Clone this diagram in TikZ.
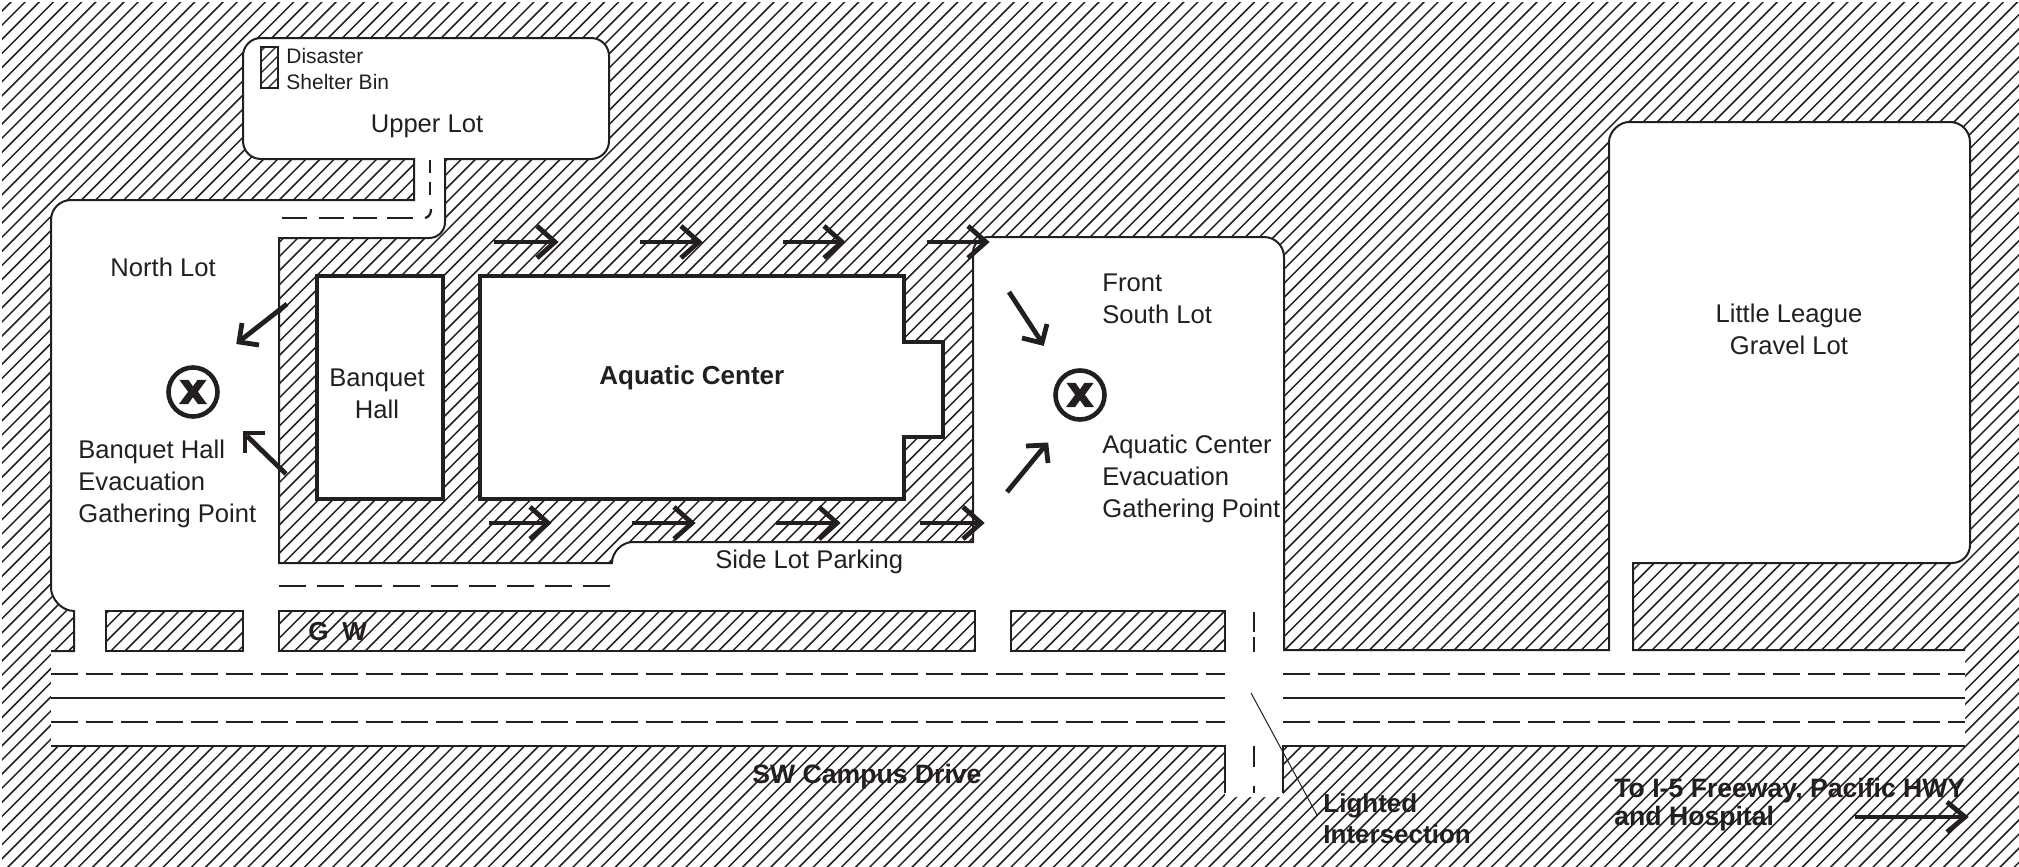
\documentclass[tikz,border=0pt]{standalone}
\usepackage{fontspec}
\setmainfont{Liberation Sans}
\newfontfamily\xfont[BoldFeatures={FakeBold=2.5}]{DejaVu Sans}
\definecolor{ink}{HTML}{231F20}
\tikzset{
  hatchline/.style={ink,line width=0.75pt,line cap=butt},
  edgeline/.style={ink,line width=1pt,line join=miter},
  bldg/.style={draw=ink,fill=white,line width=2.3pt,line join=miter},
  hatchbox/.style={draw=ink,line width=1.1pt},
  solidroad/.style={ink,line width=1.15pt},
  roaddash/.style={ink,line width=1.15pt,dash pattern=on 13.5pt off 4pt},
  lotdash/.style={ink,line width=1.15pt,dash pattern=on 13.5pt off 5.5pt},
  crossdash/.style={ink,line width=1.1pt},
  flow/.style={ink,line width=2.4pt,line join=miter,line cap=butt},
  gather/.style={draw=ink,line width=2.3pt,fill=white},
  lbl/.style={inner sep=0pt,text=ink,font=\fontsize{12.8}{16}\selectfont,align=left,anchor=base west},
  lblc/.style={lbl,align=center,anchor=base},
  blbl/.style={lbl,font=\fontsize{13}{15.5}\selectfont\bfseries},
  xmark/.style={inner sep=0pt,text=ink,font=\fontsize{21}{21}\selectfont\xfont\bfseries}
}
\def\lotedge{(51,651) -- (74,651) -- (74,611) .. controls (61,611) and (51,598) .. (51,588)
 -- (51,220) .. controls (51,209) and (60,200) .. (71,200)
 -- (414,200) -- (414,159) -- (261,159) .. controls (251,159) and (243,151) .. (243,141)
 -- (243,56) .. controls (243,46) and (251,38) .. (261,38)
 -- (591,38) .. controls (601,38) and (609,46) .. (609,56)
 -- (609,141) .. controls (609,151) and (601,159) .. (591,159)
 -- (445,159) -- (445,222) .. controls (445,231) and (438,238) .. (429,238)
 -- (279,238) -- (279,563) -- (612,563) .. controls (612,552) and (622,542) .. (633,542)
 -- (973,542) -- (973,252) .. controls (973,244) and (981,237) .. (988,237)
 -- (1264,237) .. controls (1275,237) and (1284,246) .. (1284,257)
 -- (1284,650) -- (1609,650) -- (1609,142) .. controls (1609,131) and (1620,122) .. (1629,122)
 -- (1950,122) .. controls (1961,122) and (1970,131) .. (1970,142)
 -- (1970,545) .. controls (1970,555) and (1962,563) .. (1952,563)
 -- (1633,563) -- (1633,650) -- (1965,650)}
\begin{document}
\begin{tikzpicture}[x=0.5pt,y=-0.5pt]
\useasboundingbox (0,0) rectangle (2019,867);
\fill[white] (0,0) rectangle (2019,867);
% background hatching
\begin{scope}
  \clip (2,2) rectangle (2019,867);
  \foreach \k in {0,...,205}{
    \pgfmathsetmacro{\c}{13+14.13*\k}
    \draw[hatchline] (\c,0) -- (0,\c);
  }
\end{scope}
% lots and roads, with the hatched curb blocks left as holes
\fill[white,even odd rule] \lotedge -- (1965,746) -- (1283,746) -- (1283,797) -- (1225,797) -- (1225,746) -- (51,746) -- cycle
  (106,611) rectangle (243,651)
  (279,611) rectangle (975,651)
  (1011,611) rectangle (1225,651);
\draw[edgeline] \lotedge;
\draw[hatchbox] (106,611) rectangle (243,651);
\draw[hatchbox] (279,611) rectangle (975,651);
\draw[hatchbox] (1011,611) rectangle (1225,651);
% road lines
\draw[solidroad] (51,698) -- (1225,698);
\draw[solidroad] (1283,698) -- (1965,698);
\draw[solidroad] (51,746) -- (1225,746) -- (1225,793);
\draw[solidroad] (1965,746) -- (1283,746) -- (1283,793);
\draw[roaddash] (51,674) -- (1225,674);
\draw[roaddash] (51,722) -- (1225,722);
\draw[roaddash] (1283,674) -- (1965,674);
\draw[roaddash] (1283,722) -- (1965,722);
\draw[lotdash] (279,586) -- (612,586);
% cross street dashes
\draw[crossdash] (1254,612) -- (1254,632) (1254,637) -- (1254,652) (1254,746) -- (1254,767) (1254,786) -- (1254,793);
% access road dashes
\draw[crossdash] (430,160) -- (430,173) (430,182) -- (430,195);
\draw[crossdash] (431,209) .. controls (431,214) and (429,217) .. (425,218);
\draw[crossdash] (282,218) -- (307,218) (319,218) -- (344,218) (353,218) -- (377,218) (387,218) -- (413,218);
% leader
\draw[ink,line width=0.5pt] (1251,693) -- (1317,815);
% buildings
\draw[bldg] (317,276) rectangle (443,499);
\draw[bldg] (480,276) -- (904,276) -- (904,342) -- (943,342) -- (943,437) -- (904,437) -- (904,499) -- (480,499) -- cycle;
% legend swatch
\begin{scope}
  \clip (261,47) rectangle (278,88);
  \foreach \k in {0,...,6}{
    \pgfmathsetmacro{\c}{312+11*\k}
    \draw[ink,line width=0.65pt] (\c,0) -- (0,\c);
  }
\end{scope}
\draw[ink,line width=0.8pt] (261,47) rectangle (278,88);
% flow arrows
\foreach \xa/\xb in {494/555,640/699,783/842,927/986}{
  \draw[flow] (\xa,242) -- (\xb-2,242);
  \draw[flow] (\xb-18,226) -- (\xb,242) -- (\xb-18,258);
}
\foreach \xa/\xb in {489/548,632/692,776/837,920/981}{
  \draw[flow] (\xa,523) -- (\xb-2,523);
  \draw[flow] (\xb-18,507) -- (\xb,523) -- (\xb-18,539);
}
\draw[flow] (1009,292) -- (1041,341);
\draw[flow] (1047,324) -- (1042,343) -- (1022,338);
\draw[flow] (1007,492) -- (1044,447);
\draw[flow] (1026,446) -- (1046,445) -- (1048,463);
\draw[flow] (287,304) -- (241,340);
\draw[flow] (242,323) -- (239,342) -- (259,345);
\draw[flow] (286,474) -- (247,436);
\draw[flow] (265,433) -- (245,433) -- (245,453);
\draw[flow] (1855,817) -- (1963,817);
\draw[flow] (1947,802) -- (1965,817) -- (1947,832);
% gathering points
\node[gather,circle,minimum size=24.5pt,inner sep=0pt] (gp1) at (193,392) {};
\node[xmark] (gp1x) at (193,392) {x};
\node[gather,circle,minimum size=24.5pt,inner sep=0pt] (gp2) at (1080,395) {};
\node[xmark] (gp2x) at (1080,395) {x};
% labels
\node[lbl,font=\fontsize{10.5}{13}\selectfont] (bin) at (286,89) {Disaster\\Shelter Bin};
\node[lblc] (upper) at (427,132) {Upper Lot};
\node[lbl] (north) at (110,276) {North Lot};
\node[lblc] (hall) at (377,418) {Banquet\\Hall};
\node[blbl] (aquatic) at (599,384) {Aquatic Center};
\node[lbl] (gp1t) at (78,522) {Banquet Hall\\Evacuation\\Gathering Point};
\node[lbl] (south) at (1102,323) {Front\\South Lot};
\node[lbl] (gp2t) at (1102,517) {Aquatic Center\\Evacuation\\Gathering Point};
\node[lbl] (side) at (715,568) {Side Lot Parking};
\node[lblc] (gravel) at (1789,354) {Little League\\Gravel Lot};
\node[blbl] (gw1) at (308,640) {G};
\node[blbl] (gw2) at (342,640) {W};
\node[blbl,font=\fontsize{13.3}{15.5}\selectfont\bfseries] (campus) at (752,783) {SW Campus Drive};
\node[blbl] (lighted) at (1323,843) {Lighted\\Intersection};
\node[blbl,font=\fontsize{13.3}{14}\selectfont\bfseries] (freeway) at (1614,825) {To I-5 Freeway, Pacific HWY\\and Hospital};
\end{tikzpicture}
\end{document}
